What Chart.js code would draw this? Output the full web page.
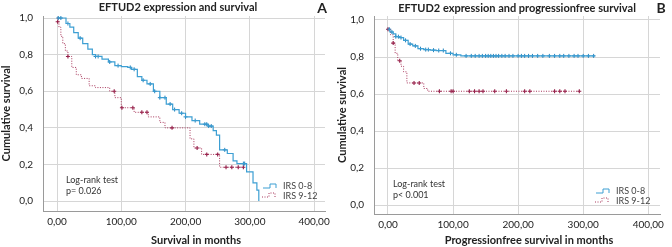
<!DOCTYPE html>
<html>
<head>
<meta charset="utf-8">
<script src="https://cdn.jsdelivr.net/npm/chart.js@4"></script>
<style>
  html, body { margin: 0; padding: 0; background: #fff; }
  #wrap { display: flex; width: 672px; height: 247px; }
  canvas { display: block; }
</style>
</head>
<body>
<div id="wrap">
  <canvas id="chartA" width="336" height="247"></canvas>
  <canvas id="chartB" width="336" height="247"></canvas>
</div>
<script>
// tick labels
const xTicks = [0, 100, 200, 300, 400];
const yTicks = [0, 0.2, 0.4, 0.6, 0.8, 1.0];

// Panel A - overall survival (Kaplan-Meier steps: time, survival after event)
const aLowTimes = [0, 10, 14, 20, 26, 33, 40, 48, 55, 60, 70, 80, 90, 100, 110, 116, 125, 132, 140, 150, 160, 170, 180, 190, 200, 210, 222, 235, 243, 248, 253, 265, 274, 280, 295, 305, 311, 314];
const aLowSurv  = [1.0, 1.0, 0.97, 0.95, 0.92, 0.89, 0.86, 0.83, 0.80, 0.79, 0.775, 0.76, 0.74, 0.735, 0.73, 0.72, 0.68, 0.66, 0.64, 0.60, 0.565, 0.53, 0.50, 0.48, 0.46, 0.44, 0.42, 0.41, 0.385, 0.36, 0.28, 0.26, 0.22, 0.205, 0.16, 0.10, 0.06, 0.0];
const aLowCens  = [2, 6, 17, 36, 60, 64, 82, 95, 114, 120, 134, 145, 152, 160, 168, 176, 183, 194, 200, 215, 230, 233, 236, 240, 261, 290, 292];

const aHighTimes = [0, 1, 3, 6, 9, 13, 17, 23, 30, 38, 50, 60, 82, 90, 100, 120, 142, 160, 168, 207, 213, 225, 253, 290];
const aHighSurv  = [1.0, 0.98, 0.95, 0.90, 0.86, 0.82, 0.79, 0.73, 0.69, 0.67, 0.63, 0.62, 0.60, 0.565, 0.51, 0.485, 0.46, 0.43, 0.40, 0.34, 0.29, 0.255, 0.185, 0.185];
const aHighCens  = [1, 17, 89, 101, 118, 132, 140, 179, 218, 233, 250, 263, 272, 282, 290];

// Panel B - progression free survival
const bLowTimes = [0, 3, 8, 12, 18, 24, 31, 38, 46, 55, 65, 74, 89, 100, 112, 318];
const bLowSurv  = [0.95, 0.935, 0.925, 0.91, 0.905, 0.89, 0.87, 0.86, 0.845, 0.84, 0.837, 0.835, 0.82, 0.812, 0.806, 0.806];
const bLowCens  = [2, 6, 12, 16, 20, 27, 34, 42, 50, 58, 62, 70, 78, 85, 96, 105, 120, 128, 134, 140, 145, 150, 154, 158, 162, 166, 170, 175, 180, 186, 192, 200, 205, 210, 216, 222, 230, 238, 248, 256, 264, 270, 278, 286, 292, 300, 308, 316];

const bHighTimes = [0, 4, 8, 11, 15, 20, 24, 29, 55, 61, 294];
const bHighSurv  = [0.95, 0.92, 0.875, 0.82, 0.78, 0.75, 0.72, 0.66, 0.63, 0.615, 0.615];
const bHighCens  = [0, 8, 18, 40, 48, 79, 97, 100, 125, 133, 140, 146, 164, 182, 210, 218, 256, 264, 272, 294];

const BLUE = '#3d9fd3';
const BLUE_MARK = '#2384bf';
const RED = '#a8385c';
const RED_MARK = '#931c47';
const FONT = 'Lato, "Liberation Sans", sans-serif';

function steps(times, surv) {
  return times.map((t, i) => ({ x: t, y: surv[i] }));
}
function censors(times, surv, cens) {
  return cens.map(c => {
    let s = surv[0];
    for (let i = 0; i < times.length; i++) if (times[i] <= c) s = surv[i];
    return { x: c, y: s };
  });
}

// draws panel title, letter, log-rank note, x title and the step legend
const decorations = {
  id: 'decorations',
  afterDraw(chart, args, o) {
    const ctx = chart.ctx;
    const ca = chart.chartArea;
    ctx.save();
    ctx.fillStyle = '#222';
    ctx.textBaseline = 'middle';
    ctx.font = 'bold 11px ' + FONT;
    ctx.textAlign = 'center';
    ctx.fillText(o.title, o.titleX, o.titleY);
    ctx.fillText(o.xTitle, (ca.left + ca.right) / 2 + 12, 240);
    ctx.font = 'bold 14px ' + FONT;
    ctx.fillText(o.letter, o.letterX, 8);

    ctx.font = '9px ' + FONT;
    ctx.textAlign = 'left';
    ctx.fillStyle = '#333';
    ctx.fillText('Log-rank test', o.noteX, o.noteY);
    ctx.fillText(o.p, o.noteX, o.noteY + 11);

    // legend
    const lx = o.legX, ly = o.legY;
    ctx.lineWidth = 1;
    ctx.strokeStyle = BLUE;
    ctx.setLineDash([]);
    ctx.beginPath();
    ctx.moveTo(lx, ly + 2); ctx.lineTo(lx + 7, ly + 2); ctx.lineTo(lx + 7, ly - 2); ctx.lineTo(lx + 13, ly - 2); ctx.lineTo(lx + 13, ly + 2);
    ctx.stroke();
    ctx.strokeStyle = RED;
    ctx.setLineDash([1, 1.5]);
    ctx.beginPath();
    const ry = ly + 9;
    ctx.moveTo(lx - 1, ry + 2); ctx.lineTo(lx + 6, ry + 2); ctx.lineTo(lx + 6, ry - 2); ctx.lineTo(lx + 12, ry - 2); ctx.lineTo(lx + 12, ry + 2);
    ctx.stroke();
    ctx.setLineDash([]);
    ctx.fillStyle = '#444';
    ctx.fillText('IRS 0-8', lx + 20, ly);
    ctx.fillText('IRS 9-12', lx + 20, ry + 1);
    ctx.restore();
  }
};

function makeChart(id, cfg) {
  const ctx = document.getElementById(id).getContext('2d');
  return new Chart(ctx, {
    type: 'line',
    data: {
      datasets: [
        { data: steps(cfg.lowT, cfg.lowS), borderColor: BLUE, borderWidth: 1.2, stepped: 'before', pointRadius: 0, fill: false },
        { data: steps(cfg.highT, cfg.highS), borderColor: RED, borderWidth: 1, borderDash: [1, 1.5], stepped: 'before', pointRadius: 0, fill: false },
        { data: censors(cfg.lowT, cfg.lowS, cfg.lowC), showLine: false, pointStyle: 'cross', pointRadius: 2, borderColor: BLUE_MARK, borderWidth: 1 },
        { data: censors(cfg.highT, cfg.highS, cfg.highC), showLine: false, pointStyle: 'cross', pointRadius: 2, borderColor: RED_MARK, borderWidth: 1.1 }
      ]
    },
    options: {
      responsive: false,
      animation: false,
      layout: { padding: { top: 15, right: cfg.padRight, left: 0, bottom: 0 } },
      plugins: {
        legend: { display: false },
        tooltip: { enabled: false },
        decorations: Object.assign({ xTitle: cfg.xTitle }, cfg.deco)
      },
      scales: {
        x: {
          type: 'linear',
          min: cfg.xMin, max: cfg.xMax,
          afterBuildTicks: s => { s.ticks = xTicks.map(v => ({ value: v })); },
          afterFit: s => { s.height = cfg.xH; },
          grid: { color: '#d6d6d6', drawTicks: false },
          border: { display: true, color: '#9a9a9a' },
          ticks: {
            padding: 5, color: '#222', font: { family: FONT, size: 10 },
            maxRotation: 0,
            callback: v => v.toFixed(2).replace('.', ',')
          }
        },
        y: {
          min: cfg.yMin, max: cfg.yMax,
          afterBuildTicks: s => { s.ticks = yTicks.map(v => ({ value: v })); },
          afterFit: s => { s.width = cfg.yW; },
          grid: { color: '#d6d6d6', drawTicks: false },
          border: { display: true, color: '#9a9a9a' },
          ticks: {
            padding: 10, color: '#222', font: { family: FONT, size: 10 },
            callback: v => v.toFixed(1).replace('.', ',')
          },
          title: {
            display: true, text: 'Cumulative survival', color: '#222',
            font: { family: FONT, size: 11, weight: 'bold' }, padding: { top: 0, bottom: 0 }
          }
        }
      }
    },
    plugins: [decorations]
  });
}

window.onload = function() {
  makeChart('chartA', {
    lowT: aLowTimes, lowS: aLowSurv, lowC: aLowCens,
    highT: aHighTimes, highS: aHighSurv, highC: aHighCens,
    xMin: -21.8, xMax: 417, yMin: -0.054, yMax: 1.011,
    yW: 43, xH: 36, padRight: 11,
    xTitle: 'Survival in months',
    deco: {
      title: 'EFTUD2 expression and survival', titleX: 178, titleY: 7,
      letter: 'A', letterX: 322,
      noteX: 66, noteY: 180, p: 'p= 0.026',
      legX: 263, legY: 186
    }
  });
  makeChart('chartB', {
    lowT: bLowTimes, lowS: bLowSurv, lowC: bLowCens,
    highT: bHighTimes, highS: bHighSurv, highC: bHighCens,
    xMin: -21.5, xMax: 418, yMin: -0.048, yMax: 1.0215,
    yW: 38, xH: 33, padRight: 12,
    xTitle: 'Progressionfree survival in months',
    deco: {
      title: 'EFTUD2 expression and progressionfree survival', titleX: 181, titleY: 8,
      letter: 'B', letterX: 325,
      noteX: 57, noteY: 184, p: 'p< 0.001',
      legX: 260, legY: 191
    }
  });
};
</script>
</body>
</html>
